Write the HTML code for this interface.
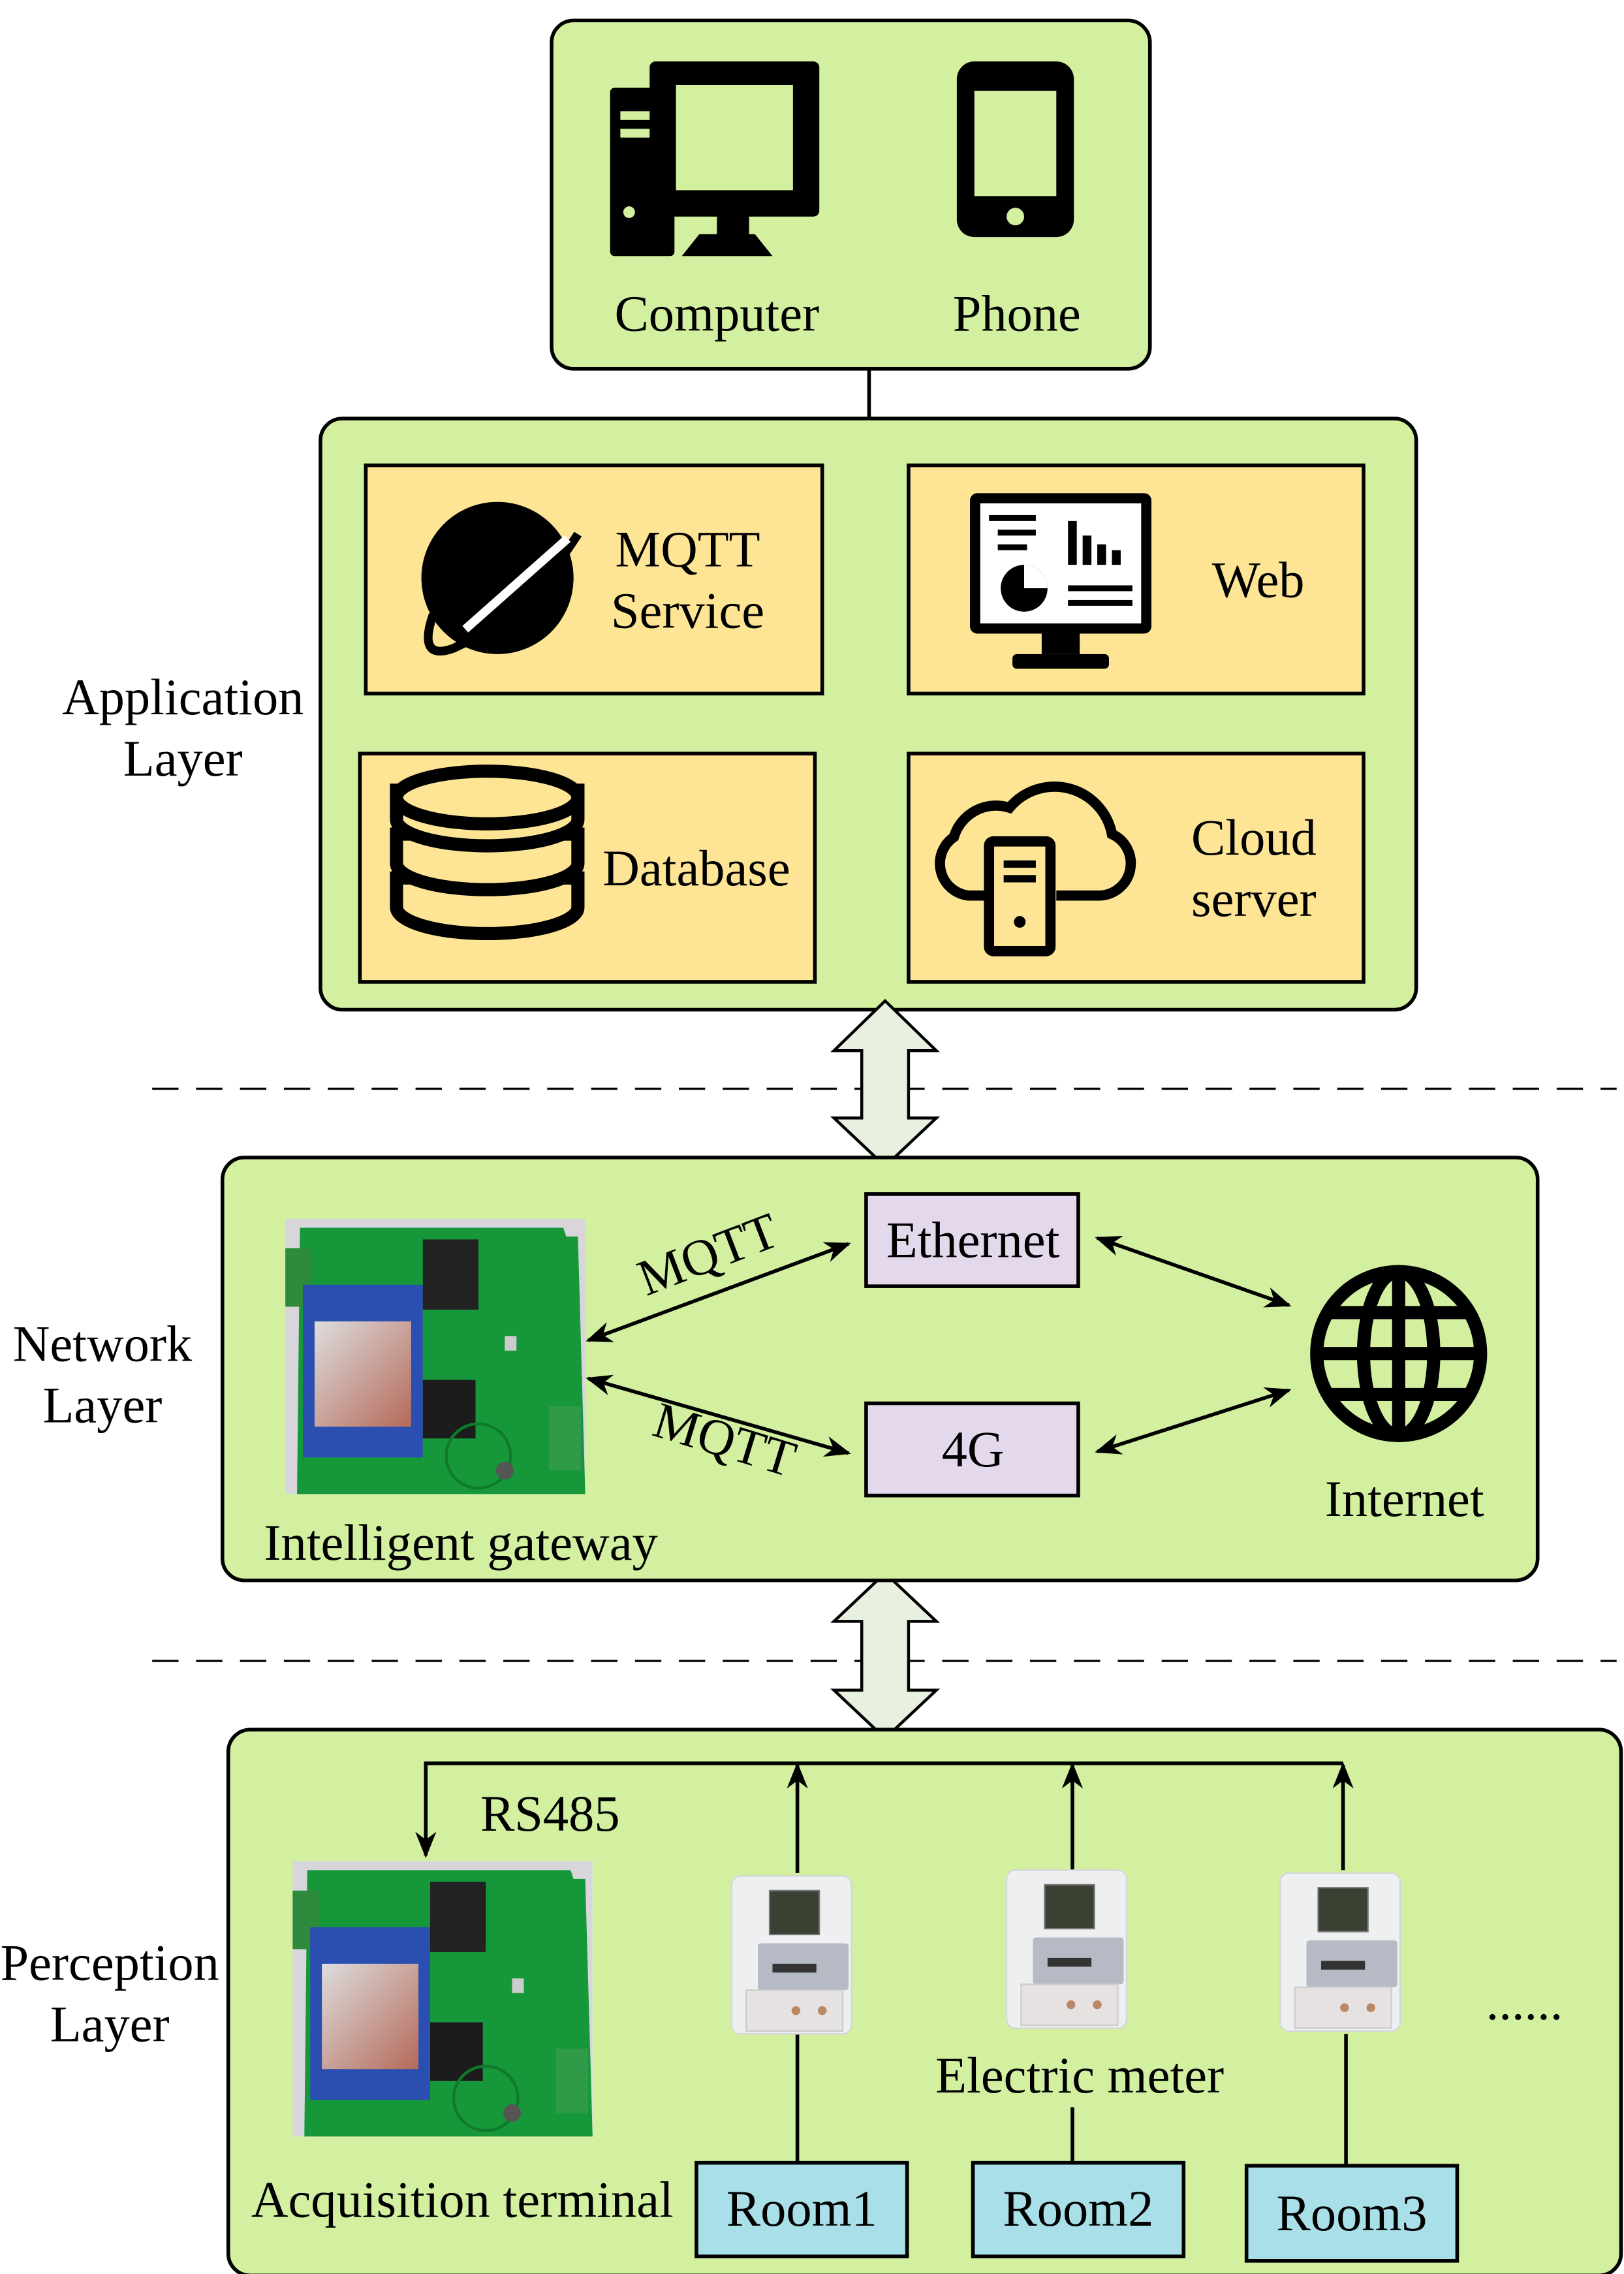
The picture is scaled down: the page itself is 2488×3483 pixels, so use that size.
<!DOCTYPE html>
<html><head><meta charset="utf-8"><style>html,body{margin:0;padding:0;background:#fff}svg{display:block}text{font-family:"Liberation Serif",serif;fill:#000}</style></head>
<body>
<svg width="2488" height="3483" viewBox="0 0 1110 1554" xmlns="http://www.w3.org/2000/svg">
<defs>
<marker id="ah2" viewBox="0 0 10 10" refX="9" refY="5" markerWidth="18" markerHeight="18" markerUnits="userSpaceOnUse" orient="auto-start-reverse"><path d="M0,1 L10,5 L0,9 L3,5 z" fill="#000"/></marker>
<linearGradient id="sil" x1="0" y1="0" x2="1" y2="1"><stop offset="0" stop-color="#ddd"/><stop offset="1" stop-color="#b56a5a"/></linearGradient>
<g id="board">
<rect x="0" y="0" width="205" height="188" fill="#d8d6da"/>
<path d="M10,6 L190,6 L192,12 L200,12 L205,188 L8,188 z" fill="#16983a"/>
<rect x="0" y="20" width="18" height="40" fill="#2e8b3e"/>
<rect x="12" y="45" width="82" height="118" fill="#2a4fb0"/>
<rect x="20" y="70" width="66" height="72" fill="url(#sil)"/>
<rect x="94" y="14" width="38" height="48" fill="#222"/>
<rect x="94" y="110" width="36" height="40" fill="#1c1c1c"/>
<circle cx="132" cy="162" r="22" fill="none" stroke="#0f7a2c" stroke-width="2"/>
<rect x="180" y="128" width="22" height="44" fill="#2f9b48"/>
<rect x="150" y="80" width="8" height="10" fill="#ccc"/>
<circle cx="150" cy="172" r="6" fill="#555"/>
</g>
<g id="meter">
<rect x="0" y="0" width="82" height="108" rx="6" fill="#eeeff1" stroke="#d4d6da"/>
<rect x="26" y="10" width="34" height="30" fill="#3a4032" stroke="#777"/>
<rect x="18" y="46" width="62" height="32" fill="#b6bac4" rx="2"/>
<rect x="28" y="60" width="30" height="6" fill="#333"/>
<rect x="10" y="78" width="66" height="28" fill="#e6e2e2" stroke="#ccc"/>
<circle cx="62" cy="92" r="3" fill="#b86"/>
<circle cx="44" cy="92" r="3" fill="#b86"/>
</g>
</defs>

<rect x="377" y="14" width="409" height="238" rx="15" fill="#d2f0a0" stroke="#000" stroke-width="2.5"/>
<rect x="417" y="60" width="44" height="115" rx="3" fill="#000"/>
<rect x="424" y="76" width="30" height="6" fill="#d2f0a0"/>
<rect x="424" y="88" width="30" height="6" fill="#d2f0a0"/>
<circle cx="430" cy="145" r="4" fill="#d2f0a0"/>
<rect x="444" y="42" width="116" height="106" rx="4" fill="#000"/>
<rect x="462" y="58" width="80" height="72" fill="#d2f0a0"/>
<rect x="490" y="146" width="22" height="16" fill="#000"/>
<path d="M466,175 L478,160 L516,160 L528,175 z" fill="#000"/>
<rect x="654" y="42" width="80" height="120" rx="12" fill="#000"/>
<rect x="666" y="62" width="56" height="72" fill="#d2f0a0"/>
<circle cx="694" cy="148" r="6" fill="#d2f0a0"/>
<text x="490" y="226" font-size="35" text-anchor="middle">Computer</text>
<text x="695" y="226" font-size="35" text-anchor="middle">Phone</text>
<line x1="594" y1="252" x2="594" y2="286" stroke="#000" stroke-width="2.5"/>

<rect x="219" y="286" width="749" height="404" rx="15" fill="#d2f0a0" stroke="#000" stroke-width="2.5"/>
<text x="125" y="488" font-size="35" text-anchor="middle">Application</text>
<text x="125" y="530" font-size="35" text-anchor="middle">Layer</text>
<rect x="250" y="318" width="312" height="156" fill="#fee596" stroke="#000" stroke-width="2.5"/>
<rect x="621" y="318" width="311" height="156" fill="#fee596" stroke="#000" stroke-width="2.5"/>
<rect x="246" y="515" width="311" height="156" fill="#fee596" stroke="#000" stroke-width="2.5"/>
<rect x="621" y="515" width="311" height="156" fill="#fee596" stroke="#000" stroke-width="2.5"/>
<circle cx="340" cy="395" r="52" fill="#000"/>
<path d="M296,420 Q285,452 310,443 Q360,420 395,365" fill="none" stroke="#000" stroke-width="6"/>
<path d="M318,430 L388,368" stroke="#fff" stroke-width="6"/>
<text x="470" y="387" font-size="35" text-anchor="middle">MQTT</text>
<text x="470" y="429" font-size="35" text-anchor="middle">Service</text>
<rect x="663" y="337" width="124" height="96" rx="5" fill="#000"/>
<rect x="670" y="344" width="110" height="82" fill="#fff"/>
<rect x="676" y="352" width="32" height="4" fill="#000"/><rect x="682" y="362" width="26" height="4" fill="#000"/><rect x="682" y="372" width="20" height="4" fill="#000"/>
<rect x="730" y="356" width="6" height="30" fill="#000"/><rect x="740" y="366" width="6" height="20" fill="#000"/><rect x="750" y="372" width="6" height="14" fill="#000"/><rect x="760" y="376" width="6" height="10" fill="#000"/>
<circle cx="700" cy="402" r="16" fill="#000"/><path d="M700,402 L700,386 A16,16 0 0 1 716,402 z" fill="#fff"/>
<rect x="730" y="400" width="44" height="4" fill="#000"/><rect x="730" y="410" width="44" height="4" fill="#000"/>
<rect x="712" y="433" width="26" height="14" fill="#000"/><rect x="692" y="447" width="66" height="10" rx="3" fill="#000"/>
<text x="860" y="408" font-size="35" text-anchor="middle">Web</text>
<g fill="#fee596" stroke="#000" stroke-width="9">
<path d="M271,620 a62,18 0 0 0 124,0 v-20 h-124 z"/>
<path d="M271,590 a62,18 0 0 0 124,0 v-20 h-124 z"/>
<path d="M271,560 a62,18 0 0 0 124,0 v-20 h-124 z"/>
<ellipse cx="333" cy="545" rx="62" ry="18"/>
</g>
<text x="476" y="605" font-size="35" text-anchor="middle">Database</text>
<path d="M676,612 L662,612 A22,22 0 0 1 652,572 A30,30 0 0 1 690,552 A40,40 0 0 1 760,570 A22,22 0 0 1 752,612 L722,612" fill="none" stroke="#000" stroke-width="7"/>
<rect x="676" y="575" width="42" height="75" rx="3" fill="#fee596" stroke="#000" stroke-width="7"/>
<rect x="686" y="588" width="22" height="5" fill="#000"/><rect x="686" y="598" width="22" height="5" fill="#000"/>
<circle cx="697" cy="630" r="4" fill="#000"/>
<text x="857" y="584" font-size="35" text-anchor="middle">Cloud</text>
<text x="857" y="626" font-size="35" text-anchor="middle">server</text>

<line x1="104" y1="744" x2="1105" y2="744" stroke="#000" stroke-width="1.5" stroke-dasharray="18,12"/>
<line x1="104" y1="1135" x2="1105" y2="1135" stroke="#000" stroke-width="1.5" stroke-dasharray="18,12"/>
<path d="M605,684 L640,718 L621,718 L621,764 L640,764 L605,797 L570,764 L589,764 L589,718 L570,718 z" fill="#e8f0e0" stroke="#000" stroke-width="2"/>
<path d="M605,1075 L640,1108 L621,1108 L621,1155 L640,1155 L605,1188 L570,1155 L589,1155 L589,1108 L570,1108 z" fill="#e8f0e0" stroke="#000" stroke-width="2"/>

<rect x="152" y="791" width="899" height="289" rx="15" fill="#d2f0a0" stroke="#000" stroke-width="2.5"/>
<text x="70" y="930" font-size="35" text-anchor="middle">Network</text>
<text x="70" y="972" font-size="35" text-anchor="middle">Layer</text>
<use href="#board" x="195" y="833"/>
<text x="315" y="1066" font-size="35" text-anchor="middle">Intelligent gateway</text>
<rect x="592" y="816" width="145" height="63" fill="#e4d8ec" stroke="#000" stroke-width="2.5"/>
<rect x="592" y="959" width="145" height="63" fill="#e4d8ec" stroke="#000" stroke-width="2.5"/>
<text x="665" y="859" font-size="35" text-anchor="middle">Ethernet</text>
<text x="665" y="1002" font-size="35" text-anchor="middle">4G</text>
<g stroke="#000" stroke-width="2.5" fill="none" marker-start="url(#ah2)" marker-end="url(#ah2)">
<line x1="402" y1="916" x2="580" y2="850"/>
<line x1="402" y1="942" x2="580" y2="993"/>
<line x1="750" y1="846" x2="881" y2="892"/>
<line x1="750" y1="992" x2="881" y2="950"/>
</g>
<text x="488" y="868" font-size="35" text-anchor="middle" transform="rotate(-21 488 868)">MQTT</text>
<text x="492" y="995" font-size="35" text-anchor="middle" transform="rotate(17 492 995)">MQTT</text>
<g fill="none" stroke="#000" stroke-width="9">
<circle cx="956" cy="925" r="56"/>
<ellipse cx="956" cy="925" rx="24" ry="56"/>
<line x1="956" y1="869" x2="956" y2="981"/>
<line x1="900" y1="925" x2="1012" y2="925"/>
<line x1="908" y1="897" x2="1004" y2="897"/>
<line x1="908" y1="953" x2="1004" y2="953"/>
</g>
<text x="960" y="1036" font-size="35" text-anchor="middle">Internet</text>

<rect x="156" y="1182" width="952" height="373" rx="15" fill="#d2f0a0" stroke="#000" stroke-width="2.5"/>
<text x="75" y="1353" font-size="35" text-anchor="middle">Perception</text>
<text x="75" y="1395" font-size="35" text-anchor="middle">Layer</text>
<g stroke="#000" stroke-width="2.5" fill="none">
<path d="M291,1268 L291,1205 L918,1205" marker-start="url(#ah2)"/>
<line x1="545" y1="1280" x2="545" y2="1206" marker-end="url(#ah2)"/>
<line x1="733" y1="1278" x2="733" y2="1206" marker-end="url(#ah2)"/>
<line x1="918" y1="1278" x2="918" y2="1206" marker-end="url(#ah2)"/>
<line x1="545" y1="1390" x2="545" y2="1478"/>
<line x1="733" y1="1440" x2="733" y2="1478"/>
<line x1="920" y1="1390" x2="920" y2="1480"/>
</g>
<text x="376" y="1251" font-size="35" text-anchor="middle">RS485</text>
<use href="#board" x="200" y="1272"/>
<use href="#meter" x="500" y="1282"/>
<use href="#meter" x="688" y="1278"/>
<use href="#meter" x="875" y="1280"/>
<text x="1042" y="1380" font-size="35" text-anchor="middle">......</text>
<text x="738" y="1430" font-size="35" text-anchor="middle">Electric meter</text>
<text x="316" y="1515" font-size="35" text-anchor="middle">Acquisition terminal</text>
<rect x="476" y="1478" width="144" height="64" fill="#a8dfe8" stroke="#000" stroke-width="2.5"/>
<rect x="665" y="1478" width="144" height="64" fill="#a8dfe8" stroke="#000" stroke-width="2.5"/>
<rect x="852" y="1480" width="144" height="65" fill="#a8dfe8" stroke="#000" stroke-width="2.5"/>
<text x="548" y="1521" font-size="35" text-anchor="middle">Room1</text>
<text x="737" y="1521" font-size="35" text-anchor="middle">Room2</text>
<text x="924" y="1524" font-size="35" text-anchor="middle">Room3</text>
</svg>
</body></html>
